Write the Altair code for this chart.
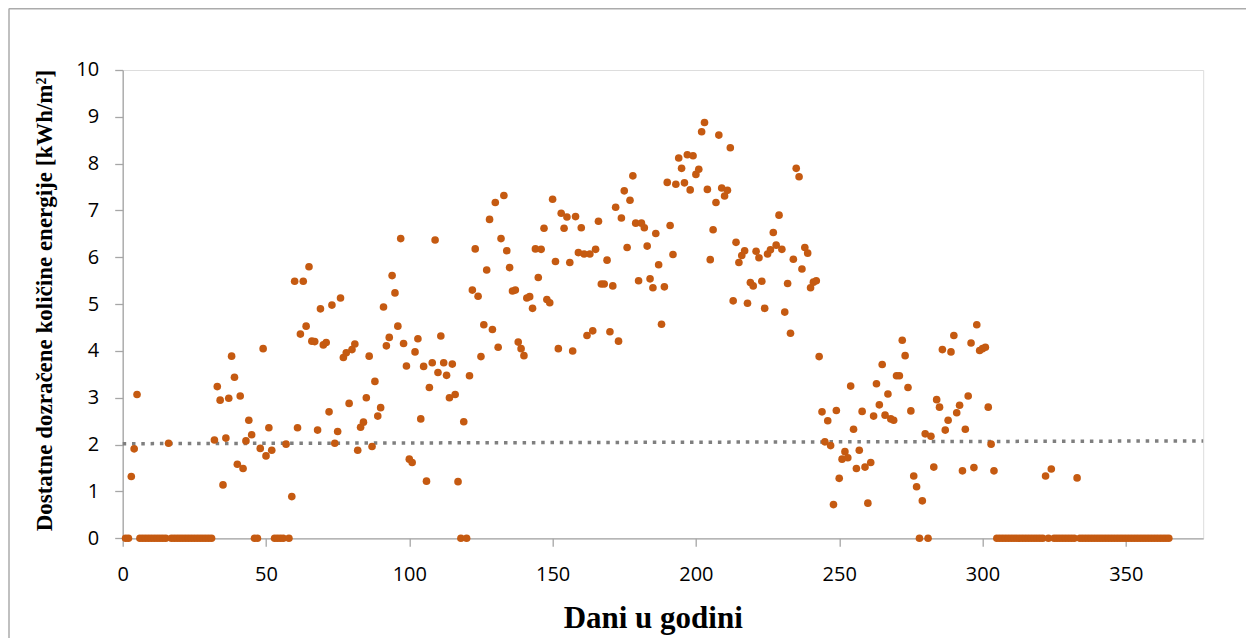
import altair as alt
import pandas as pd

# Daily values (days 1..365)
values = [
    0, 0, 1.32, 1.91, 3.07, 0, 0, 0, 0, 0,
    0, 0, 0, 0, 0, 2.03, 0, 0, 0, 0,
    0, 0, 0, 0, 0, 0, 0, 0, 0, 0,
    0, 2.10, 3.24, 2.95, 1.14, 2.14, 2.99, 3.89, 3.44, 1.58,
    3.04, 1.49, 2.08, 2.52, 2.21, 0, 0, 1.92, 4.05, 1.76,
    2.36, 1.88, 0, 0, 0, 0, 2.01, 0, 0.89, 5.49,
    2.36, 4.36, 5.49, 4.53, 5.80, 4.21, 4.20, 2.31, 4.90, 4.13,
    4.18, 2.70, 4.98, 2.03, 2.28, 5.13, 3.86, 3.96, 2.88, 4.03,
    4.15, 1.88, 2.37, 2.48, 3.00, 3.89, 1.96, 3.35, 2.61, 2.79,
    4.94, 4.11, 4.29, 5.61, 5.24, 4.53, 6.40, 4.16, 3.68, 1.69,
    1.62, 3.98, 4.26, 2.55, 3.67, 1.22, 3.22, 3.75, 6.37, 3.54,
    4.32, 3.75, 3.48, 3.00, 3.72, 3.07, 1.21, 0, 2.49, 0,
    3.47, 5.30, 6.18, 5.17, 3.88, 4.56, 5.73, 6.81, 4.46, 7.17,
    4.08, 6.40, 7.32, 6.14, 5.78, 5.28, 5.30, 4.19, 4.05, 3.90,
    5.13, 5.16, 4.91, 6.18, 5.57, 6.17, 6.62, 5.10, 5.03, 7.24,
    5.91, 4.05, 6.94, 6.62, 6.86, 5.89, 4.00, 6.87, 6.10, 6.63,
    6.07, 4.33, 6.07, 4.43, 6.17, 6.77, 5.43, 5.43, 5.94, 4.41,
    5.39, 7.07, 4.21, 6.84, 7.42, 6.21, 7.22, 7.74, 6.73, 5.50,
    6.73, 6.63, 6.24, 5.54, 5.35, 6.51, 5.84, 4.57, 5.37, 7.60,
    6.68, 6.06, 7.56, 8.12, 7.90, 7.59, 8.19, 7.44, 8.17, 7.77,
    7.88, 8.68, 8.88, 7.45, 5.95, 6.59, 7.17, 8.61, 7.48, 7.31,
    7.43, 8.34, 5.07, 6.32, 5.89, 6.04, 6.14, 5.02, 5.46, 5.39,
    6.13, 5.99, 5.49, 4.91, 6.07, 6.16, 6.53, 6.26, 6.90, 6.17,
    4.83, 5.44, 4.38, 5.96, 7.90, 7.72, 5.75, 6.21, 6.09, 5.35,
    5.47, 5.50, 3.88, 2.70, 2.06, 2.51, 1.98, 0.72, 2.73, 1.28,
    1.69, 1.85, 1.72, 3.25, 2.33, 1.49, 1.88, 2.71, 1.52, 0.75,
    1.62, 2.61, 3.30, 2.85, 3.71, 2.63, 3.08, 2.55, 2.52, 3.47,
    3.47, 4.23, 3.90, 3.22, 2.72, 1.33, 1.10, 0, 0.80, 2.23,
    0, 2.18, 1.52, 2.96, 2.80, 4.03, 2.31, 2.52, 3.98, 4.33,
    2.68, 2.84, 1.44, 2.33, 3.04, 4.17, 1.51, 4.56, 4.01, 4.05,
    4.08, 2.80, 2.01, 1.44, 0, 0, 0, 0, 0, 0,
    0, 0, 0, 0, 0, 0, 0, 0, 0, 0,
    0, 1.33, 0, 1.48, 0, 0, 0, 0, 0, 0,
    0, 0, 1.29, 0, 0, 0, 0, 0, 0, 0,
    0, 0, 0, 0, 0, 0, 0, 0, 0, 0,
    0, 0, 0, 0, 0, 0, 0, 0, 0, 0,
    0, 0, 0, 0, 0,
]
days = list(range(1, len(values) + 1))

# dotted reference (trend) line
trend_x = [0, 377]
trend_y = [2.02, 2.08]

x_ticks = [0, 50, 100, 150, 200, 250, 300, 350]
y_ticks = [0, 1, 2, 3, 4, 5, 6, 7, 8, 9, 10]

pts = pd.DataFrame({"dan": days, "vrijednost": values})
trend = pd.DataFrame({"dan": trend_x, "vrijednost": trend_y})

AXIS_COL = "#A6A6A6"
W = 1080.5
H = 468.3

x_axis = alt.Axis(
    title="Dani u godini", values=x_ticks, grid=False,
    domainColor=AXIS_COL, domainWidth=1.3, tickColor=AXIS_COL, tickWidth=1.3,
    tickSize=8, labelFont="Open Sans", labelFontSize=20, labelColor="#000000",
    labelPadding=18, labelFlush=False,
    titleFont="Liberation Serif", titleFontSize=31, titleFontWeight="bold",
    titleColor="#000000", titleX=530, titleY=89, titleAlign="center",
    titleBaseline="alphabetic",
)
y_axis = alt.Axis(
    title="Dostatne dozračene količine energije [kWh/m²]", values=y_ticks,
    grid=False, domainColor=AXIS_COL, domainWidth=1.3, tickColor=AXIS_COL,
    tickWidth=1.3, tickSize=8, labelFont="Open Sans", labelFontSize=20,
    labelColor="#000000", labelPadding=16, labelFlush=False,
    titleFont="Liberation Serif", titleFontSize=23, titleFontWeight="bold",
    titleColor="#000000", titleAngle=270, titleX=-78, titleY=H / 2 - 4,
    titleAlign="center", titleBaseline="middle",
)

xs = alt.Scale(domain=[0, 377], nice=False, zero=False)
ys = alt.Scale(domain=[0, 10], nice=False)

trend_layer = alt.Chart(trend).mark_line(
    color="#7F7F7F", strokeWidth=3.5, strokeDash=[3.5, 5.8], strokeCap="butt"
).encode(
    x=alt.X("dan:Q", scale=xs, axis=x_axis),
    y=alt.Y("vrijednost:Q", scale=ys, axis=y_axis),
)

point_layer = alt.Chart(pts).mark_circle(
    color="#C55A11", size=58, opacity=1
).encode(
    x=alt.X("dan:Q", scale=xs, axis=x_axis),
    y=alt.Y("vrijednost:Q", scale=ys, axis=y_axis),
)

# chart-area frame (decoration, like the Excel chart border)
frame_left = alt.Chart(pd.DataFrame({"a": [0]})).mark_rule(
    color="#ABABAB", strokeWidth=1.5
).encode(x=alt.value(-113.7), y=alt.value(-61.5), y2=alt.value(700))
frame_top = alt.Chart(pd.DataFrame({"a": [0]})).mark_rule(
    color="#ABABAB", strokeWidth=1.5
).encode(x=alt.value(-113.7), x2=alt.value(1200), y=alt.value(-61.3))

chart = alt.layer(trend_layer, point_layer, frame_left, frame_top).properties(
    width=W,
    height=H,
    padding={"left": 114.7, "top": 62, "right": 42.8, "bottom": 102},
    autosize=alt.AutoSizeParams(type="none"),
).configure_view(stroke=None).configure(background="white")

chart.save("out.html", embed_options={"renderer": "svg", "actions": False})
